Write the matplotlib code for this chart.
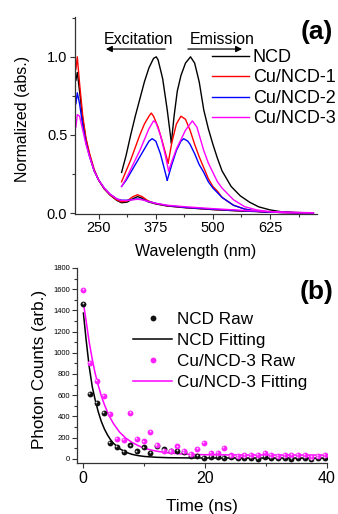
import matplotlib
matplotlib.use("Agg")
import matplotlib.pyplot as plt
from matplotlib.lines import Line2D
from matplotlib import transforms
from matplotlib.ticker import MultipleLocator

plt.rcParams['font.family'] = ['Liberation Sans', 'DejaVu Sans']

# ---------------- Panel (a) data ----------------
series_names = ["NCD", "Cu/NCD-1", "Cu/NCD-2", "Cu/NCD-3"]
series_colors = ["#000000", "#ff0000", "#0000ff", "#ff00ff"]

abs_wl = [200, 203, 208, 215, 222, 230, 240, 250, 262, 275, 290, 300, 312, 325,
          335, 345, 358, 375, 400, 440, 500, 560, 620, 680, 720]
abs_ncd = [0.85, 0.90, 0.78, 0.60, 0.47, 0.37, 0.27, 0.21, 0.155, 0.115, 0.08, 0.066,
           0.07, 0.092, 0.105, 0.095, 0.072, 0.058, 0.045, 0.034, 0.022, 0.013, 0.007, 0.003, 0.001]
abs_cu1 = [0.92, 1.00, 0.83, 0.62, 0.48, 0.38, 0.28, 0.21, 0.155, 0.115, 0.083, 0.072,
           0.078, 0.105, 0.117, 0.105, 0.078, 0.06, 0.046, 0.035, 0.023, 0.014, 0.008, 0.003, 0.001]
abs_cu2 = [0.70, 0.77, 0.70, 0.56, 0.45, 0.36, 0.27, 0.21, 0.16, 0.12, 0.09, 0.082,
           0.082, 0.087, 0.09, 0.087, 0.075, 0.062, 0.048, 0.036, 0.024, 0.015, 0.008, 0.003, 0.001]
abs_cu3 = [0.55, 0.63, 0.62, 0.53, 0.44, 0.36, 0.27, 0.21, 0.16, 0.12, 0.09, 0.08,
           0.08, 0.085, 0.088, 0.085, 0.074, 0.062, 0.05, 0.04, 0.028, 0.018, 0.01, 0.004, 0.002]

exc_ncd_wl = [300, 310, 320, 330, 340, 350, 360, 370, 376, 380, 390, 400, 409]
exc_ncd = [0.26, 0.37, 0.50, 0.62, 0.73, 0.84, 0.93, 0.99, 1.00, 0.98, 0.86, 0.66, 0.45]
exc_cu1_wl = [300, 310, 320, 330, 340, 350, 360, 365, 370, 380, 390, 402]
exc_cu1 = [0.20, 0.27, 0.34, 0.42, 0.50, 0.57, 0.62, 0.64, 0.62, 0.55, 0.45, 0.32]
exc_cu2_wl = [300, 310, 320, 330, 340, 350, 360, 367, 375, 385, 393, 400]
exc_cu2 = [0.17, 0.21, 0.26, 0.31, 0.36, 0.41, 0.46, 0.476, 0.46, 0.38, 0.29, 0.21]
exc_cu3_wl = [300, 310, 320, 330, 340, 350, 360, 370, 375, 385, 395, 403]
exc_cu3 = [0.17, 0.22, 0.28, 0.34, 0.40, 0.47, 0.54, 0.59, 0.58, 0.50, 0.38, 0.27]

em_ncd_wl = [409, 415, 422, 430, 440, 451, 460, 470, 480, 490, 500, 510, 520, 540,
             560, 580, 600, 625, 650, 680, 720]
em_ncd = [0.45, 0.62, 0.78, 0.88, 0.96, 1.00, 0.96, 0.84, 0.66, 0.54, 0.44, 0.35, 0.27,
          0.17, 0.11, 0.07, 0.04, 0.02, 0.008, 0.002, 0.0]
em_cu1_wl = [402, 410, 420, 430, 440, 450, 460, 470, 480, 490, 500, 510, 520, 545,
             570, 600, 650, 720]
em_cu1 = [0.32, 0.45, 0.57, 0.62, 0.60, 0.53, 0.44, 0.36, 0.29, 0.22, 0.17, 0.14, 0.10,
          0.05, 0.025, 0.01, 0.003, 0.0]
em_cu2_wl = [400, 410, 420, 430, 436, 445, 450, 460, 470, 480, 490, 500, 510, 520,
             545, 570, 600, 650, 720]
em_cu2 = [0.21, 0.31, 0.40, 0.46, 0.476, 0.46, 0.44, 0.38, 0.31, 0.26, 0.20, 0.16, 0.13,
          0.10, 0.05, 0.025, 0.01, 0.003, 0.0]
em_cu3_wl = [403, 410, 420, 430, 440, 455, 465, 480, 490, 500, 510, 520, 545, 570,
             596, 625, 660, 720]
em_cu3 = [0.27, 0.33, 0.41, 0.47, 0.53, 0.59, 0.55, 0.40, 0.32, 0.26, 0.20, 0.16, 0.085,
          0.04, 0.02, 0.008, 0.002, 0.0]

# ---------------- Panel (b) data ----------------
raw_t = [0.05, 1.15, 2.25, 3.35, 4.45, 5.55, 6.65, 7.75, 8.85, 9.95, 11.05, 12.15,
         13.25, 14.35, 15.45, 16.55, 17.65, 18.75, 19.85, 20.95, 22.05, 23.15, 24.25,
         25.35, 26.45, 27.55, 28.65, 29.75, 30.85, 31.95, 33.05, 34.15, 35.25, 36.35,
         37.45, 38.55, 39.65]
raw_ncd = [1462, 613, 525, 431, 148, 110, 66, 126, 69, 107, 53, 125, 88, 70, 75, 60,
           30, 25, 10, 20, 15, 10, 15, 10, 5, 10, 0, 15, 10, 5, 5, 0, 10, 5, -5, 5, 5]
raw_cu3 = [1594, 908, 736, 594, 421, 186, 180, 431, 186, 163, 252, 132, 75, 75, 116,
           75, 47, 91, 148, 53, 53, 100, 31, 25, 35, 35, 40, 55, 35, 30, 35, 35, 35,
           35, 20, 25, 35]

fit_ncd_t = [0.05, 0.5, 1.0, 1.5, 2.0, 2.5, 3.0, 3.5, 4.0, 4.5, 5.0, 6.0, 7.0, 8.0,
             9.0, 10, 12, 14, 17, 20, 40]
fit_ncd = [1374, 1120, 870, 680, 550, 440, 350, 280, 225, 180, 145, 95, 62, 42, 30,
           22, 14, 10, 8, 7, 6]
fit_cu3_t = [0.05, 0.5, 1.0, 1.5, 2.0, 2.5, 3.0, 3.5, 4.0, 4.5, 5.0, 6.0, 7.0, 8.0,
             9.0, 10, 11, 12, 14, 16, 18, 20, 25, 40]
fit_cu3 = [1470, 1300, 1100, 940, 800, 690, 590, 510, 440, 380, 330, 250, 195, 155,
           125, 100, 85, 72, 55, 46, 41, 38, 36, 35]

W, H = 338, 514
fig = plt.figure(figsize=(W / 100, H / 100), dpi=100)

spine_col = "#333333"

def style_axes(ax):
    for s in ("top", "right"):
        ax.spines[s].set_visible(False)
    for s in ("left", "bottom"):
        ax.spines[s].set_color(spine_col)
        ax.spines[s].set_linewidth(0.9)
    ax.tick_params(which="both", direction="out", color=spine_col, width=0.8)
    ax.tick_params(which="major", length=3.5, pad=2)
    ax.tick_params(which="minor", length=2)

# ---- Axes (a)
axa = fig.add_axes([75 / W, 1 - 213.5 / H, 242 / W, 196.5 / H])
style_axes(axa)
abs_sets = [abs_ncd, abs_cu1, abs_cu2, abs_cu3]
exc_sets = [(exc_ncd_wl, exc_ncd), (exc_cu1_wl, exc_cu1), (exc_cu2_wl, exc_cu2), (exc_cu3_wl, exc_cu3)]
em_sets = [(em_ncd_wl, em_ncd), (em_cu1_wl, em_cu1), (em_cu2_wl, em_cu2), (em_cu3_wl, em_cu3)]
for i, (name, col) in enumerate(zip(series_names, series_colors)):
    axa.plot(abs_wl, abs_sets[i], color=col, lw=1.0)
    axa.plot(*exc_sets[i], color=col, lw=1.0)
    axa.plot(*em_sets[i], color=col, lw=1.0)
axa.set_xlim(198, 728)
axa.set_ylim(-0.003, 1.255)
axa.set_xticks([250, 375, 500, 625])
axa.xaxis.set_minor_locator(MultipleLocator(62.5))
axa.yaxis.set_major_locator(MultipleLocator(0.5))
axa.yaxis.set_minor_locator(MultipleLocator(0.25))
axa.yaxis.set_major_formatter(matplotlib.ticker.FormatStrFormatter('%.1f'))
axa.tick_params(labelsize=10.5)
axa.set_xlabel("Wavelength (nm)", fontsize=11.5)
axa.set_ylabel("Normalized (abs.)", fontsize=11.5)
axa.xaxis.set_label_coords(0.5, (213.5 - 244) / 196.5)
axa.yaxis.set_label_coords((30 - 75) / 242, 0.48)

handles_a = [Line2D([], [], color=c, lw=1.0) for c in series_colors]
axa.legend(handles_a, series_names, loc="upper left",
           bbox_to_anchor=(212 / W, 1 - 49 / H), bbox_transform=fig.transFigure,
           frameon=False, fontsize=13, handlelength=2.05, handletextpad=0.2,
           labelspacing=0.19, borderpad=0, borderaxespad=0)

axa.annotate("", xy=(0.116, 0.837), xytext=(0.384, 0.837), xycoords="axes fraction",
             arrowprops=dict(arrowstyle="-|>", lw=0.9, color="k", mutation_scale=9))
axa.annotate("", xy=(0.702, 0.837), xytext=(0.455, 0.837), xycoords="axes fraction",
             arrowprops=dict(arrowstyle="-|>", lw=0.9, color="k", mutation_scale=9))
axa.text(0.264, 0.885, "Excitation", transform=axa.transAxes, ha="center", va="center", fontsize=11.5)
axa.text(0.607, 0.885, "Emission", transform=axa.transAxes, ha="center", va="center", fontsize=11.5)
fig.text(317 / W, 1 - 32 / H, "(a)", ha="center", va="center", fontsize=19, fontweight="bold")

# ---- Axes (b)
axb = fig.add_axes([77 / W, 1 - 463 / H, 250 / W, 195 / H])
style_axes(axb)
axb.plot(fit_ncd_t, fit_ncd, color="#000000", lw=1.1, zorder=2)
axb.plot(fit_cu3_t, fit_cu3, color="#ff00ff", lw=1.1, zorder=2)
hl = transforms.offset_copy(axb.transData, fig=fig, x=-0.55, y=0.55, units="points")
axb.plot(raw_t, raw_ncd, "o", color="#111111", ms=4.2, mew=0, zorder=3)
axb.plot(raw_t, raw_ncd, "o", color="#d8d8d8", ms=1.3, mew=0, zorder=4, transform=hl)
axb.plot(raw_t, raw_cu3, "o", color="#ff22ff", ms=4.2, mew=0, zorder=3)
axb.plot(raw_t, raw_cu3, "o", color="#ffc8ff", ms=1.3, mew=0, zorder=4, transform=hl)
axb.set_xlim(-1, 40)
axb.set_ylim(-40, 1800)
axb.set_xticks([0, 20, 40])
axb.xaxis.set_minor_locator(MultipleLocator(10))
axb.set_yticks(list(range(0, 1801, 200)))
axb.yaxis.set_minor_locator(MultipleLocator(100))
axb.tick_params(axis="x", labelsize=11.5)
axb.tick_params(axis="y", labelsize=5.5, pad=1.5)
axb.set_xlabel("Time (ns)", fontsize=12.3)
axb.set_ylabel("Photon Counts (arb.)", fontsize=12.3)
axb.xaxis.set_label_coords(0.5, (463 - 499) / 195)
axb.yaxis.set_label_coords((47 - 77) / 250, 0.48)

handles_b = [Line2D([], [], color="#111111", marker="o", ms=4.2, lw=0, mew=0),
             Line2D([], [], color="#000000", lw=1.1),
             Line2D([], [], color="#ff22ff", marker="o", ms=4.2, lw=0, mew=0),
             Line2D([], [], color="#ff00ff", lw=1.1)]
labels_b = ["NCD Raw", "NCD Fitting", "Cu/NCD-3 Raw", "Cu/NCD-3 Fitting"]
axb.legend(handles_b, labels_b, loc="upper left", numpoints=1,
           bbox_to_anchor=(133 / W, 1 - 312 / H), bbox_transform=fig.transFigure,
           frameon=False, fontsize=12.3, handlelength=2.3, handletextpad=0.3,
           labelspacing=0.36, borderpad=0, borderaxespad=0)
fig.text(317 / W, 1 - 292 / H, "(b)", ha="center", va="center", fontsize=19, fontweight="bold")

fig.savefig("out.png", dpi=100)
